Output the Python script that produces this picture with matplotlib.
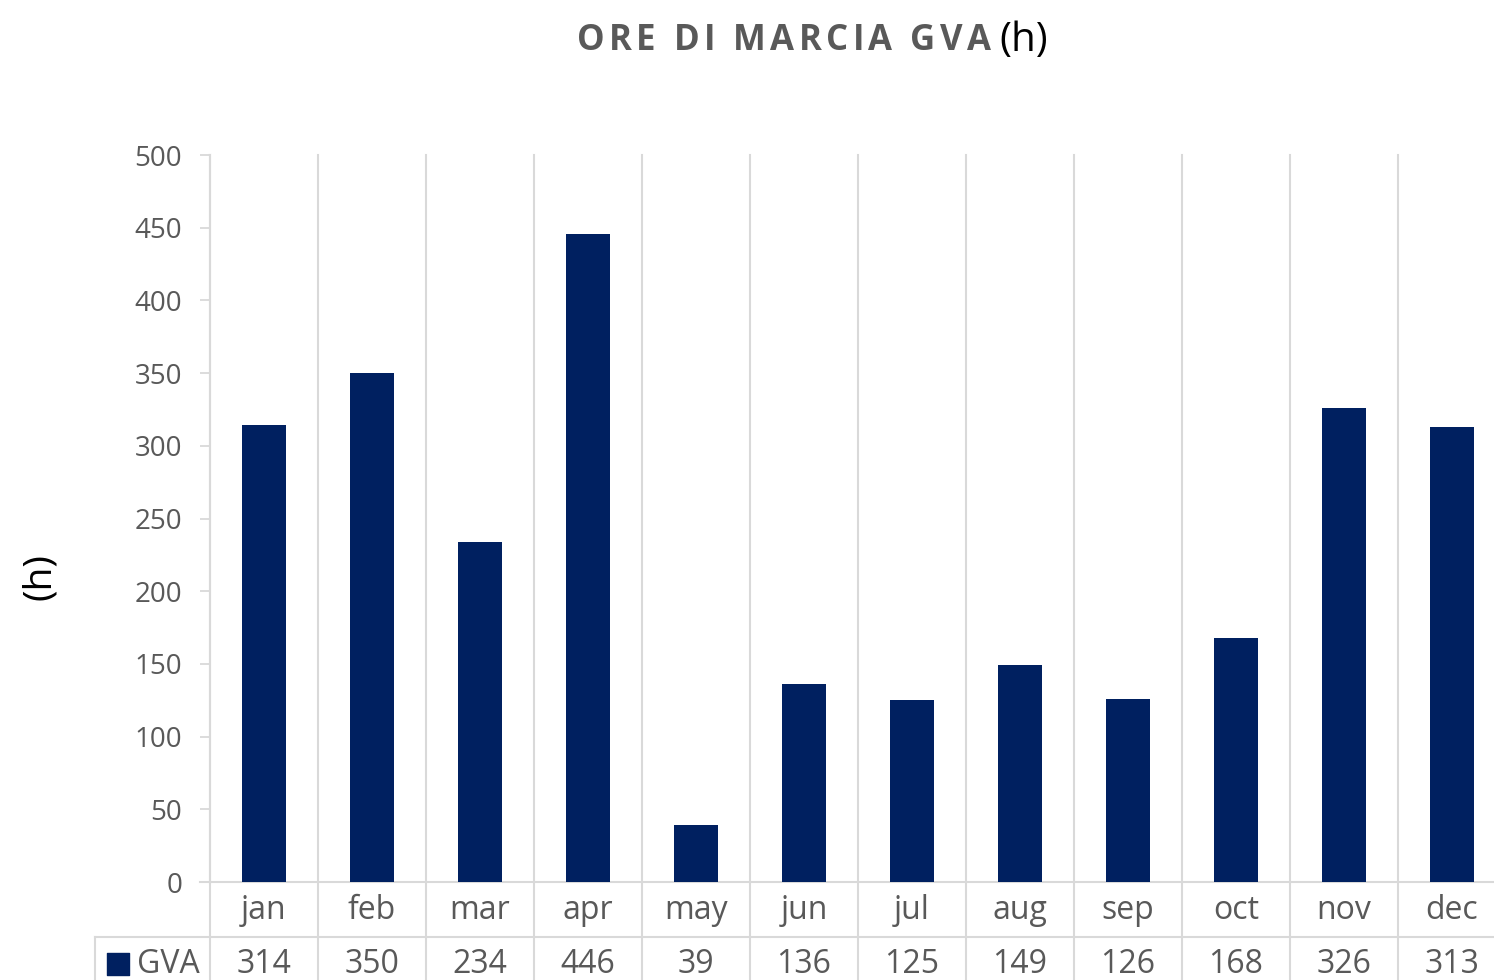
import numpy as np
import matplotlib.pyplot as plt
from matplotlib.transforms import blended_transform_factory

months = ['jan', 'feb', 'mar', 'apr', 'may', 'jun', 'jul', 'aug', 'sep', 'oct', 'nov', 'dec']
gva_hours = [314, 350, 234, 446, 39, 136, 125, 149, 126, 168, 326, 313]
series_name = 'GVA'
y_ticks = [0, 50, 100, 150, 200, 250, 300, 350, 400, 450, 500]

bar_color = '#002060'
grid_color = '#D9D9D9'
text_color = '#595959'
font = 'Open Sans'

fig = plt.figure(figsize=(14.94, 9.80), dpi=100)
W, H = 1494, 980
# plot area in pixels: left 210, right 1506 (runs a bit past the edge), top 155, bottom 882
ax = fig.add_axes([210 / W, (H - 882) / H, 1296 / W, (882 - 155) / H])

x = np.arange(len(months))
ax.bar(x, gva_hours, width=0.41, color=bar_color, zorder=3)

ax.set_xlim(-0.5, len(months) - 0.5)
ax.set_ylim(0, 500)
ax.set_yticks(y_ticks)
ax.set_yticklabels([str(v) for v in y_ticks], fontsize=20, color=text_color, family=font)
ax.tick_params(axis='y', length=7, width=1.3, color=grid_color, pad=13)
ax.set_xticks([])

for side in ['top', 'right', 'bottom']:
    ax.spines[side].set_visible(False)
ax.spines['left'].set_color(grid_color)
ax.spines['left'].set_linewidth(1.5)

trans = blended_transform_factory(ax.transData, ax.transAxes)
ax_h = 882 - 155
row1 = (882 - 910) / ax_h
row_sep = (882 - 937) / ax_h
row2 = (882 - 964) / ax_h
bottom = -0.3

# vertical separators running from the top through the data table
for k in range(len(months) + 1):
    ax.plot([k - 0.5, k - 0.5], [1, bottom], transform=trans, color=grid_color,
            lw=1.5, clip_on=False, zorder=1)

# zero line and row separator
x_left0 = -0.5 - 10 / 108
x_left1 = -0.5 - 115 / 108
ax.plot([x_left0, len(months) - 0.5], [0, 0], transform=trans, color=grid_color,
        lw=1.5, clip_on=False, zorder=2)
ax.plot([x_left1, len(months) - 0.5], [row_sep, row_sep], transform=trans,
        color=grid_color, lw=1.5, clip_on=False)
ax.plot([x_left1, x_left1], [row_sep, bottom], transform=trans, color=grid_color,
        lw=1.5, clip_on=False)

for i, (m, v) in enumerate(zip(months, gva_hours)):
    ax.text(i, row1, m, transform=trans, ha='center', va='center', fontsize=23,
            color=text_color, family=font)
    ax.text(i, row2, str(v), transform=trans, ha='center', va='center', fontsize=23,
            color=text_color, family=font)

# legend key in table header
ax.scatter([-0.5 - 92 / 108], [row2], transform=trans, marker='s', s=230,
           color=bar_color, clip_on=False)
ax.text(-0.5 - 73 / 108, row2, series_name, transform=trans, ha='left', va='center',
        fontsize=23, color=text_color, family=font)

# title with letter spacing, drawn character by character
renderer = fig.canvas.get_renderer()
title = 'ORE DI MARCIA GVA'
spacing = 4.4
x_px = 577
y_title = 0.958
for ch in title:
    t = fig.text(x_px / W, y_title, ch, ha='left', va='center', fontsize=25,
                 fontweight='bold', color=text_color, family=font)
    if ch == ' ':
        w = renderer.get_text_width_height_descent(' ', t.get_fontproperties(), ismath=False)[0]
        t.remove()
    else:
        w = t.get_window_extent(renderer).width
    x_px += w + spacing
fig.text((x_px + 4) / W, y_title, '(h)', ha='left', va='center', fontsize=29,
         color='black', family=font)

fig.text(40 / W, 1 - 577 / H, '(h)', rotation=90, ha='center', va='center',
         fontsize=28, color='black', family=font)

fig.savefig('out.png', dpi=100)
